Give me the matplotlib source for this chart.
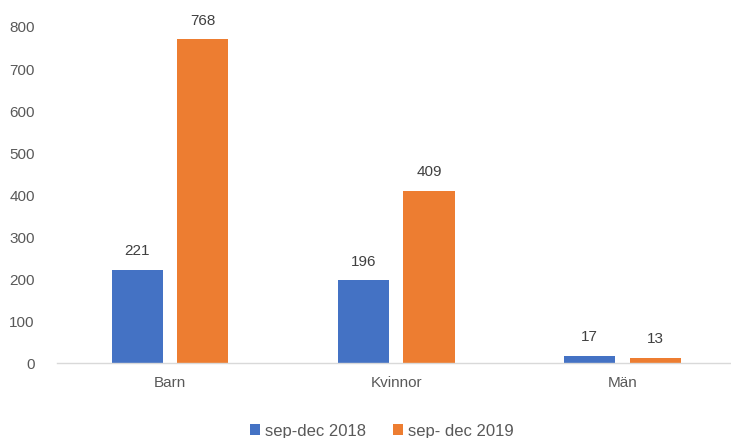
import numpy as np
import matplotlib.pyplot as plt

# Data
categories = ['Barn', 'Kvinnor', 'Män']
series_names = ['sep-dec 2018', 'sep- dec 2019']
values_2018 = [221, 196, 17]
values_2019 = [768, 409, 13]

colors = ['#4472C4', '#ED7D31']
text_color = '#595959'
font = 'Liberation Sans'

fig = plt.figure(figsize=(7.31, 4.39), dpi=100)
ax = fig.add_axes([57 / 731, 75 / 439, 674 / 731, 337 / 439])

x = np.arange(len(categories))
width = 0.226
offset = 0.145

bars_a = ax.bar(x - offset, values_2018, width, color=colors[0], label=series_names[0])
bars_b = ax.bar(x + offset, values_2019, width, color=colors[1], label=series_names[1])

# Value labels
for bars in (bars_a, bars_b):
    for b in bars:
        ax.annotate(str(int(b.get_height())),
                    (b.get_x() + b.get_width() / 2, b.get_height()),
                    xytext=(0, 9), textcoords='offset points',
                    ha='center', va='bottom', fontsize=11,
                    color='#404040', fontname=font)

ax.set_xlim(-0.5, 2.48)
ax.set_ylim(0, 800)
ax.set_yticks(np.arange(0, 801, 100))
ax.set_xticks(x)
ax.set_xticklabels(categories)

for label in ax.get_xticklabels() + ax.get_yticklabels():
    label.set_fontname(font)
    label.set_fontsize(11)
    label.set_color(text_color)

ax.tick_params(axis='both', length=0)
ax.tick_params(axis='y', pad=16)
ax.tick_params(axis='x', pad=9)

for s in ['top', 'right', 'left']:
    ax.spines[s].set_visible(False)
ax.spines['bottom'].set_color('#D9D9D9')
ax.spines['bottom'].set_linewidth(1)

leg = fig.legend(handles=[bars_a, bars_b], labels=series_names,
                 loc='center', bbox_to_anchor=(382 / 731, 1 - 432 / 439),
                 ncol=2, frameon=False, handlelength=0.6, handleheight=0.6,
                 handletextpad=0.3, columnspacing=1.6,
                 prop={'family': font, 'size': 12})
for t in leg.get_texts():
    t.set_color(text_color)

fig.savefig('out.png', dpi=100)
